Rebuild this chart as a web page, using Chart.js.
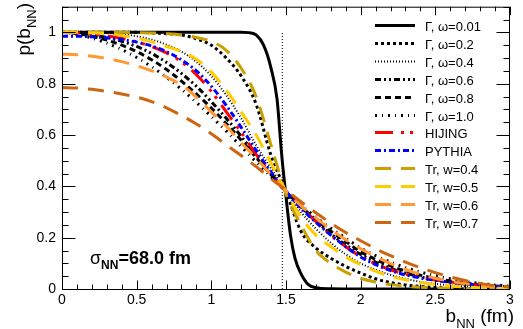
<!DOCTYPE html>
<html>
<head>
<meta charset="utf-8">
<script src="https://cdn.jsdelivr.net/npm/chart.js@4/dist/chart.umd.min.js"></script>
<style>
  html, body { margin: 0; padding: 0; background: #fff; }
  #wrap { width: 523px; height: 329px; }
</style>
</head>
<body>
<div id="wrap"><canvas id="chart" width="523" height="329"></canvas></div>
<script>
// Lưới b_NN chung (fm)
const bGrid = [0, 0.1, 0.2, 0.3, 0.4, 0.5, 0.6, 0.7, 0.8, 0.9, 1.0, 1.1, 1.2, 1.3, 1.4, 1.5,
  1.6, 1.7, 1.8, 1.9, 2.0, 2.1, 2.2, 2.3, 2.4, 2.5, 2.6, 2.7, 2.8, 2.9, 3.0];

// Γ, ω=0.01 có lưới riêng vì rất dốc
const gammaSharpB = [0, 0.5, 1.0, 1.2, 1.25, 1.3, 1.35, 1.4, 1.44, 1.47, 1.5, 1.53, 1.56, 1.6, 1.65, 1.7, 1.8, 2.0, 2.5, 3.0];
const gammaSharpP = [1, 1, 1, 1, 0.999, 0.99, 0.95, 0.86, 0.74, 0.53, 0.36, 0.21, 0.12, 0.06, 0.017, 0.005, 0.001, 0, 0, 0];

const gamma02 = [1, 1, 1, 1, 1, 1, 0.998, 0.995, 0.99, 0.975, 0.95, 0.9, 0.83, 0.72, 0.52, 0.38,
  0.225, 0.16, 0.12, 0.088, 0.062, 0.04, 0.025, 0.016, 0.01, 0.006, 0.004, 0.002, 0.001, 0.001, 0];
const gamma04 = [1, 1, 0.999, 0.997, 0.993, 0.985, 0.972, 0.952, 0.925, 0.885, 0.83, 0.755, 0.665, 0.56, 0.47, 0.38,
  0.3, 0.235, 0.18, 0.135, 0.1, 0.075, 0.055, 0.04, 0.028, 0.02, 0.014, 0.01, 0.007, 0.005, 0.003];
const gamma06 = [1, 0.998, 0.99, 0.98, 0.965, 0.945, 0.918, 0.883, 0.84, 0.79, 0.73, 0.665, 0.595, 0.52, 0.45, 0.38,
  0.32, 0.265, 0.215, 0.172, 0.135, 0.105, 0.081, 0.062, 0.047, 0.036, 0.027, 0.02, 0.015, 0.011, 0.008];
const gamma08 = [1, 0.995, 0.985, 0.97, 0.95, 0.925, 0.893, 0.855, 0.81, 0.76, 0.705, 0.645, 0.58, 0.512, 0.445, 0.38,
  0.322, 0.27, 0.225, 0.185, 0.145, 0.115, 0.09, 0.07, 0.054, 0.041, 0.031, 0.023, 0.017, 0.012, 0.009];
const gamma10 = [1, 0.993, 0.978, 0.958, 0.933, 0.902, 0.866, 0.825, 0.778, 0.727, 0.672, 0.615, 0.555, 0.495, 0.437, 0.38,
  0.327, 0.28, 0.237, 0.198, 0.16, 0.13, 0.105, 0.084, 0.066, 0.052, 0.04, 0.03, 0.022, 0.016, 0.012];
const hijing = [1, 0.998, 0.993, 0.986, 0.977, 0.963, 0.945, 0.92, 0.885, 0.835, 0.77, 0.69, 0.61, 0.525, 0.45, 0.38,
  0.32, 0.263, 0.21, 0.165, 0.127, 0.098, 0.075, 0.058, 0.045, 0.035, 0.027, 0.02, 0.014, 0.01, 0.007];
const pythia = [0.985, 0.985, 0.983, 0.979, 0.972, 0.962, 0.947, 0.925, 0.893, 0.85, 0.79, 0.715, 0.63, 0.54, 0.455, 0.38,
  0.315, 0.26, 0.21, 0.165, 0.125, 0.095, 0.072, 0.055, 0.043, 0.034, 0.026, 0.019, 0.013, 0.009, 0.006];
const tr04 = [1, 1, 1, 1, 1, 0.999, 0.998, 0.995, 0.99, 0.98, 0.965, 0.93, 0.86, 0.75, 0.56, 0.37,
  0.25, 0.15, 0.1, 0.066, 0.042, 0.027, 0.017, 0.011, 0.007, 0.004, 0.002, 0.001, 0.001, 0, 0];
const tr05 = [1, 1, 0.998, 0.995, 0.988, 0.977, 0.963, 0.945, 0.925, 0.895, 0.845, 0.775, 0.69, 0.6, 0.49, 0.38,
  0.28, 0.21, 0.165, 0.125, 0.095, 0.07, 0.05, 0.036, 0.025, 0.018, 0.012, 0.008, 0.005, 0.003, 0.002];
const tr06 = [0.915, 0.913, 0.907, 0.898, 0.886, 0.87, 0.85, 0.826, 0.795, 0.748, 0.69, 0.635, 0.57, 0.51, 0.445, 0.383,
  0.325, 0.277, 0.232, 0.192, 0.157, 0.126, 0.099, 0.076, 0.057, 0.042, 0.03, 0.021, 0.014, 0.009, 0.006];
const tr07 = [0.785, 0.783, 0.778, 0.77, 0.76, 0.748, 0.73, 0.706, 0.676, 0.643, 0.605, 0.562, 0.52, 0.477, 0.43, 0.385,
  0.34, 0.297, 0.257, 0.22, 0.188, 0.157, 0.13, 0.105, 0.083, 0.064, 0.047, 0.033, 0.022, 0.013, 0.008];

// Đường chấm dọc
const cutB = [1.475, 1.475];
const cutP = [0, 1];

// Nhãn trục
const xTitle = ['b', 'NN', ' (fm)'];
const yTitle = ['p(b', 'NN', ')'];
const sigmaText = ['σ', 'NN', '=68.0 fm'];

const FONT = "'Liberation Sans', Arial, Helvetica, sans-serif";

function pts(xs, ys) {
  return xs.map((v, i) => ({ x: v, y: ys[i] }));
}

const series = [
  { label: 'Γ, ω=0.01', x: gammaSharpB, y: gammaSharpP, color: '#000000', dash: [], width: 3 },
  { label: 'Γ, ω=0.2', x: bGrid, y: gamma02, color: '#000000', dash: [3, 3], width: 3 },
  { label: 'Γ, ω=0.4', x: bGrid, y: gamma04, color: '#000000', dash: [1, 2], width: 2 },
  { label: 'Γ, ω=0.6', x: bGrid, y: gamma06, color: '#000000', dash: [6, 3, 2, 3, 2, 3], width: 3 },
  { label: 'Γ, ω=0.8', x: bGrid, y: gamma08, color: '#000000', dash: [6, 4], width: 3 },
  { label: 'Γ, ω=1.0', x: bGrid, y: gamma10, color: '#000000', dash: [2, 5, 1, 5], width: 3 },
  { label: 'HIJING', x: bGrid, y: hijing, color: '#ff0000', dash: [18, 8, 3, 6, 3, 8], width: 3 },
  { label: 'PYTHIA', x: bGrid, y: pythia, color: '#0000ff', dash: [6, 3, 2, 3], width: 3 },
  { label: 'Tr, w=0.4', x: bGrid, y: tr04, color: '#c9a000', dash: [16, 10], width: 3 },
  { label: 'Tr, w=0.5', x: bGrid, y: tr05, color: '#ffcc00', dash: [16, 10], width: 3 },
  { label: 'Tr, w=0.6', x: bGrid, y: tr06, color: '#ff9933', dash: [16, 10], width: 3 },
  { label: 'Tr, w=0.7', x: bGrid, y: tr07, color: '#cc6611', dash: [16, 10], width: 3 }
];

const datasets = series.map((s, i) => ({
  label: s.label,
  data: pts(s.x, s.y),
  borderColor: s.color,
  borderDash: s.dash,
  borderWidth: s.width,
  borderCapStyle: 'butt',
  pointRadius: 0,
  cubicInterpolationMode: 'monotone',
  fill: false,
  order: 20 - i
}));

datasets.push({
  label: '',
  data: pts(cutB, cutP),
  borderColor: '#000000',
  borderDash: [1, 2],
  borderWidth: 1,
  pointRadius: 0,
  fill: false,
  order: 30
});

// Vẽ chữ có chỉ số dưới
function drawSub(ctx, parts, x, y, size, bold) {
  const w = bold ? 'bold ' : '';
  ctx.font = w + size + 'px ' + FONT;
  ctx.fillText(parts[0], x, y);
  x += ctx.measureText(parts[0]).width;
  ctx.font = w + Math.round(size * 0.68) + 'px ' + FONT;
  ctx.fillText(parts[1], x, y + size * 0.3);
  x += ctx.measureText(parts[1]).width;
  ctx.font = w + size + 'px ' + FONT;
  ctx.fillText(parts[2], x, y);
  return x + ctx.measureText(parts[2]).width;
}

function subWidth(ctx, parts, size) {
  ctx.font = size + 'px ' + FONT;
  let w = ctx.measureText(parts[0]).width + ctx.measureText(parts[2]).width;
  ctx.font = Math.round(size * 0.68) + 'px ' + FONT;
  return w + ctx.measureText(parts[1]).width;
}

const frameAndTicks = {
  id: 'frameAndTicks',
  afterDatasetsDraw(chart) {
    const { ctx, chartArea: a, scales: { x, y } } = chart;
    ctx.save();
    ctx.strokeStyle = '#000';
    ctx.lineWidth = 1;
    ctx.setLineDash([]);
    ctx.strokeRect(a.left + 0.5, a.top + 0.5, a.right - a.left - 1, a.bottom - a.top);
    ctx.beginPath();
    // x: vạch chính 0.5, vạch phụ 0.1
    for (let i = 0; i <= 30; i++) {
      const px = Math.round(x.getPixelForValue(i / 10)) + 0.5;
      const len = i % 5 === 0 ? 8.5 : 4.5;
      ctx.moveTo(px, a.bottom); ctx.lineTo(px, a.bottom - len);
      ctx.moveTo(px, a.top); ctx.lineTo(px, a.top + len);
    }
    // y: vạch chính 0.2, vạch phụ 0.05
    for (let i = 0; i <= 22; i++) {
      const py = Math.round(y.getPixelForValue(i * 0.05)) + 0.5;
      const len = i % 4 === 0 ? 13.5 : 6.5;
      ctx.moveTo(a.left, py); ctx.lineTo(a.left + len, py);
      ctx.moveTo(a.right, py); ctx.lineTo(a.right - len, py);
    }
    ctx.stroke();
    ctx.restore();
  },
  afterDraw(chart) {
    const { ctx } = chart;
    ctx.save();
    ctx.fillStyle = '#000';
    ctx.textBaseline = 'alphabetic';

    // Chú thích
    const rowY0 = 25, rowStep = 17.9;
    series.forEach((s, i) => {
      const yy = Math.round(rowY0 + i * rowStep) + 0.5;
      ctx.beginPath();
      ctx.setLineDash(s.dash);
      ctx.lineCap = 'butt';
      ctx.strokeStyle = s.color;
      ctx.lineWidth = s.width;
      ctx.moveTo(375, yy);
      ctx.lineTo(415, yy);
      ctx.stroke();
      ctx.setLineDash([]);
      ctx.font = '13px ' + FONT;
      ctx.fillStyle = '#000';
      ctx.fillText(s.label, 425, yy + 5);
    });

    // Tiêu đề trục x (căn phải)
    const xw = subWidth(ctx, xTitle, 19);
    drawSub(ctx, xTitle, 514 - xw, 322, 19, false);

    // Tiêu đề trục y (xoay, căn trên)
    ctx.save();
    ctx.translate(30, 3);
    ctx.rotate(-Math.PI / 2);
    const yw = subWidth(ctx, yTitle, 19);
    drawSub(ctx, yTitle, -yw, 0, 19, false);
    ctx.restore();

    // σ_NN
    const sx0 = 90;
    ctx.font = '18px ' + FONT;
    ctx.fillText(sigmaText[0], sx0, 264);
    let sx = sx0 + ctx.measureText(sigmaText[0]).width;
    ctx.font = 'bold 12px ' + FONT;
    ctx.fillText(sigmaText[1], sx, 269);
    sx += ctx.measureText(sigmaText[1]).width;
    ctx.font = 'bold 18px ' + FONT;
    ctx.fillText(sigmaText[2], sx, 264);

    ctx.restore();
  }
};

Chart.defaults.font.family = FONT;
Chart.defaults.color = '#000';

new Chart(document.getElementById('chart'), {
  type: 'line',
  data: { datasets },
  options: {
    responsive: false,
    animation: false,
    devicePixelRatio: 1,
    layout: { padding: { top: 0, right: 13, left: 0, bottom: 0 } },
    plugins: { legend: { display: false }, tooltip: { enabled: false } },
    scales: {
      x: {
        type: 'linear',
        min: 0,
        max: 3,
        border: { display: false },
        grid: { display: false, drawTicks: false },
        ticks: {
          stepSize: 0.5,
          autoSkip: false,
          maxRotation: 0,
          padding: 3,
          font: { size: 14 },
          callback: (v) => String(+v.toFixed(1))
        },
        afterFit: (s) => { s.height = 40; }
      },
      y: {
        type: 'linear',
        min: 0,
        max: 1.1,
        border: { display: false },
        grid: { display: false, drawTicks: false },
        ticks: {
          stepSize: 0.2,
          autoSkip: false,
          padding: 6,
          font: { size: 14, lineHeight: 0.1 },
          callback: (v) => {
            const k = v / 0.2;
            if (Math.abs(k - Math.round(k)) > 1e-6) return '';
            return String(+v.toFixed(1));
          }
        },
        afterFit: (s) => { s.width = 62; }
      }
    }
  },
  plugins: [frameAndTicks]
});
</script>
</body>
</html>
